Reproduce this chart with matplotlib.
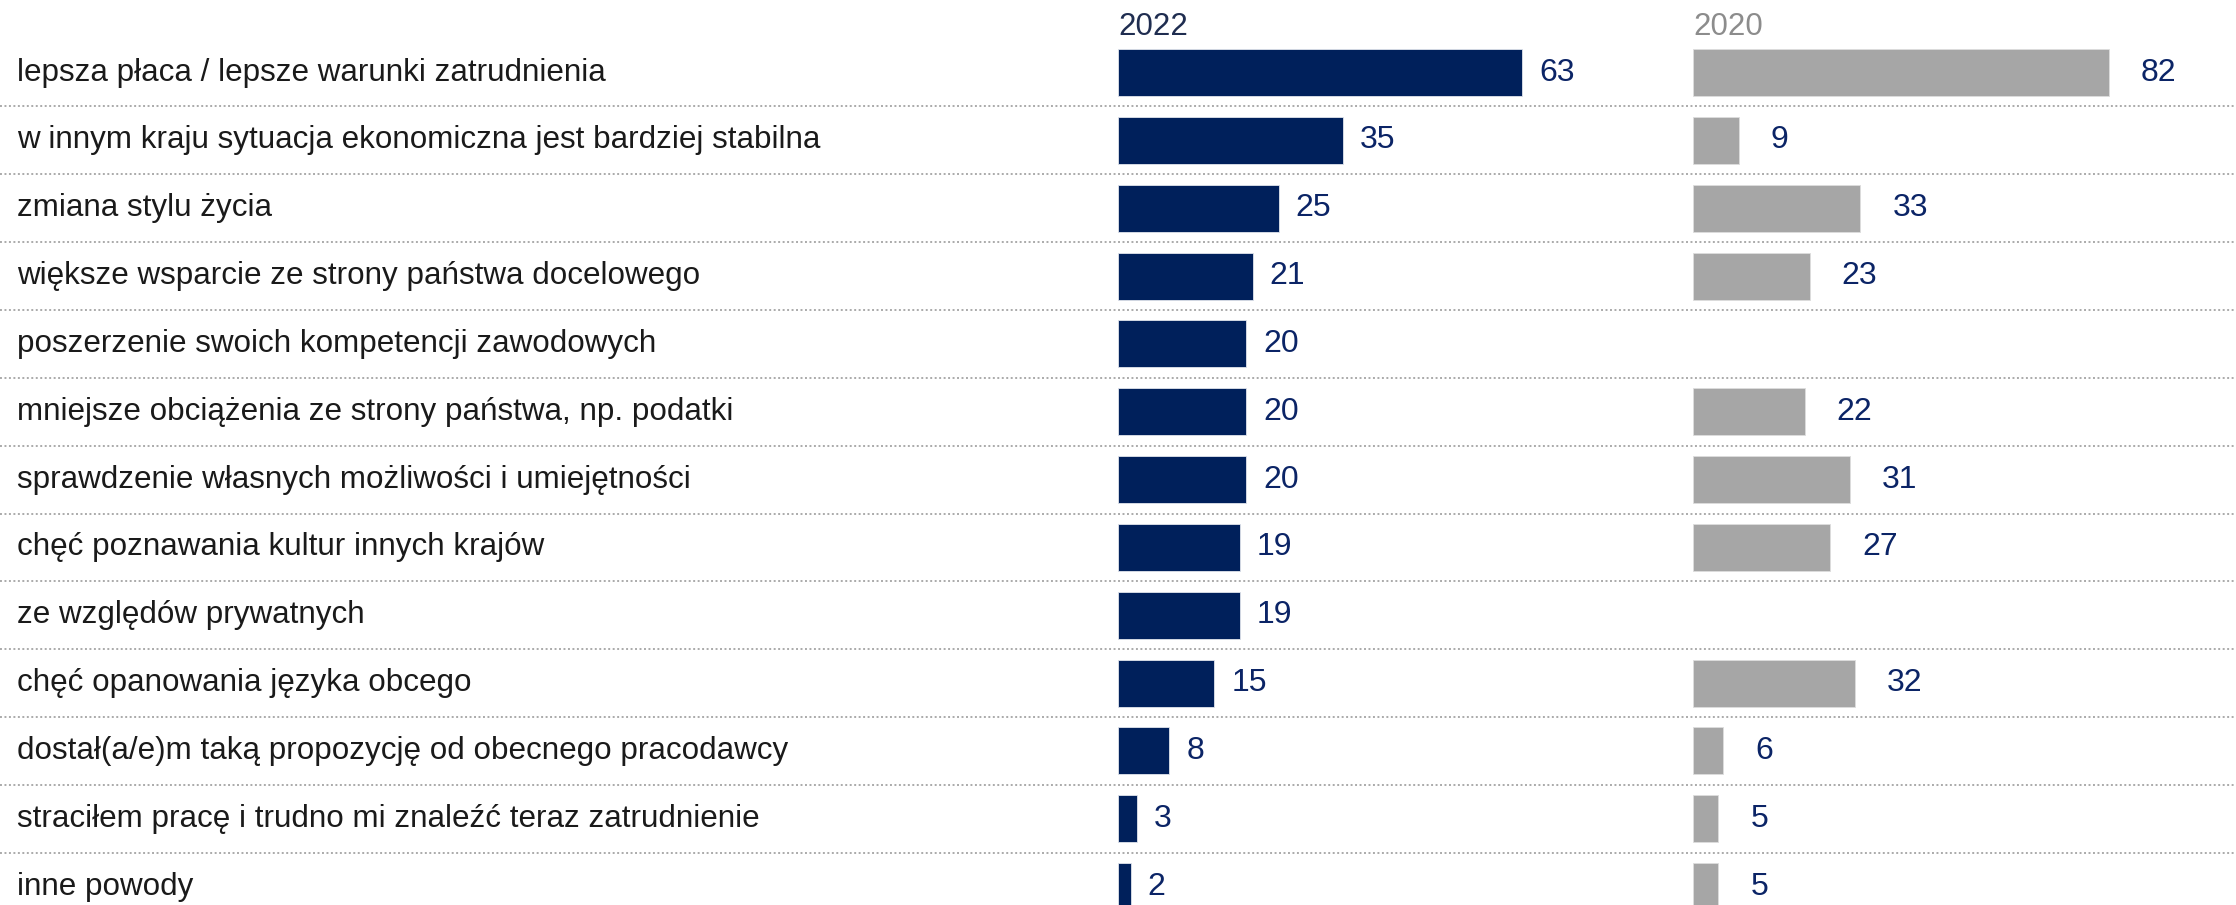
import numpy as np
import matplotlib.pyplot as plt

# data
reasons = ['lepsza płaca / lepsze warunki zatrudnienia',
           'w innym kraju sytuacja ekonomiczna jest bardziej stabilna',
           'zmiana stylu życia',
           'większe wsparcie ze strony państwa docelowego',
           'poszerzenie swoich kompetencji zawodowych',
           'mniejsze obciążenia ze strony państwa, np. podatki',
           'sprawdzenie własnych możliwości i umiejętności',
           'chęć poznawania kultur innych krajów',
           'ze względów prywatnych',
           'chęć opanowania języka obcego',
           'dostał(a/e)m taką propozycję od obecnego pracodawcy',
           'straciłem pracę i trudno mi znaleźć teraz zatrudnienie',
           'inne powody']
vals_2022 = [63, 35, 25, 21, 20, 20, 20, 19, 19, 15, 8, 3, 2]
vals_2020 = [82, 9, 33, 23, np.nan, 22, 31, 27, np.nan, 32, 6, 5, 5]
years = ['2022', '2020']

W, H = 2236, 905
navy = '#00205b'
grey_bar = '#a6a6a6'
label_col = '#0b2466'
plt.rcParams['font.family'] = ['Liberation Sans', 'DejaVu Sans']

fig = plt.figure(figsize=(W / 100, H / 100), dpi=100)

# rows in pixel terms
row0 = 72.5
step = 67.85
n = len(reasons)
ylim = ((H - row0) / step, -row0 / step)
ind = np.arange(n)

# background axes: labels + dotted separators
bg = fig.add_axes([0, 0, 1, 1])
bg.set_xlim(0, W)
bg.set_ylim(*ylim)
bg.axis('off')
for i in range(n - 1):
    bg.plot([0, W], [i + 0.5, i + 0.5], color='#aaaaaa', lw=1.4,
            linestyle=(0, (1, 1.3)))
for i, r in enumerate(reasons):
    bg.text(17, i, r, fontsize=22.6, color='#1a1a1a', va='center', ha='left')

bar_h = 47 / step


def panel(x0, x1, scale, vals, color, gap):
    ax = fig.add_axes([x0 / W, 0, (x1 - x0) / W, 1])
    ax.set_xlim(0, (x1 - x0) / scale)
    ax.set_ylim(*ylim)
    ax.axis('off')
    ax.patch.set_alpha(0)
    v = np.array(vals, dtype=float)
    ok = ~np.isnan(v)
    ax.barh(ind[ok], v[ok], height=bar_h, color=color,
            edgecolor='#e0e4ec' if color == navy else '#dddddd', linewidth=0.6)
    for i, val in enumerate(v):
        if np.isnan(val):
            continue
        ax.text(val + gap / scale, i, '%d' % val, fontsize=23, color=label_col,
                va='center', ha='left')
    return ax


a1 = panel(1118, 1680, 6.42, vals_2022, navy, 17)
a2 = panel(1693, 2236, 5.07, vals_2020, grey_bar, 32)

fig.text(1118 / W, 1 - 35 / H, years[0], fontsize=22.5, color='#1f2d50',
         va='baseline', ha='left')
fig.text(1693 / W, 1 - 35 / H, years[1], fontsize=22.5, color='#8c8c8c',
         va='baseline', ha='left')

fig.savefig('out.png', dpi=100)
